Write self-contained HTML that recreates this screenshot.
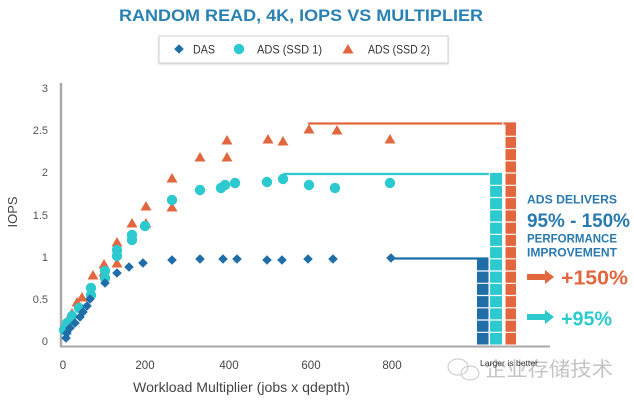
<!DOCTYPE html>
<html><head><meta charset="utf-8"><style>
html,body{margin:0;padding:0;background:#fff;}
svg{display:block;}
text{font-family:"Liberation Sans","Noto Sans CJK SC",sans-serif;}
</style></head><body>
<svg width="634" height="401" viewBox="0 0 634 401" xmlns="http://www.w3.org/2000/svg">
<defs>
<filter id="sh" x="-5%" y="-20%" width="110%" height="150%"><feDropShadow dx="0" dy="1" stdDeviation="1" flood-color="#000" flood-opacity="0.15"/></filter>
<path id="tri" d="M0,-5 L5.5,4.5 L-5.5,4.5 Z" fill="#e2673f"/>
<path id="dia" d="M0,-4.8 L4.8,0 L0,4.8 L-4.8,0 Z" fill="#1f6ea8"/>
<circle id="cir" r="5.2" fill="#2cc9cf"/>
</defs>
<rect width="634" height="401" fill="#fff"/>
<!-- title -->
<text x="119" y="21" font-size="17" font-weight="bold" fill="#2a82b4" textLength="364" lengthAdjust="spacingAndGlyphs">RANDOM READ, 4K, IOPS VS MULTIPLIER</text>
<!-- legend -->
<rect x="159" y="36" width="289" height="27" fill="#fff" stroke="#d0d0d0" stroke-width="1" filter="url(#sh)"/>
<use href="#dia" x="179" y="49"/>
<text x="193" y="53.5" font-size="12" fill="#333" textLength="22" lengthAdjust="spacingAndGlyphs">DAS</text>
<use href="#cir" x="239" y="49"/>
<text x="257" y="53.5" font-size="12" fill="#333" textLength="65" lengthAdjust="spacingAndGlyphs">ADS (SSD 1)</text>
<use href="#tri" x="348" y="49"/>
<text x="368" y="53.5" font-size="12" fill="#333" textLength="62" lengthAdjust="spacingAndGlyphs">ADS (SSD 2)</text>
<!-- axes -->
<line x1="61" y1="83" x2="61" y2="347" stroke="#aaa" stroke-width="2.5"/>
<line x1="60" y1="346.5" x2="550" y2="346.5" stroke="#aaa" stroke-width="2"/>
<!-- y ticks -->
<g font-size="11" fill="#555" text-anchor="end">
<text x="48" y="92">3</text>
<text x="48" y="134">2.5</text>
<text x="48" y="176">2</text>
<text x="48" y="219">1.5</text>
<text x="48" y="261">1</text>
<text x="48" y="303">0.5</text>
<text x="48" y="345">0</text>
</g>
<g font-size="11.5" fill="#444" text-anchor="middle">
<text x="63" y="369">0</text>
<text x="145" y="369">200</text>
<text x="229" y="369">400</text>
<text x="311" y="369">600</text>
<text x="392" y="369">800</text>
</g>
<text x="133" y="392" font-size="14" fill="#444" textLength="217" lengthAdjust="spacingAndGlyphs">Workload Multiplier (jobs x qdepth)</text>
<text transform="translate(17,212) rotate(-90)" font-size="13" fill="#444" text-anchor="middle">IOPS</text>
<!-- reference lines -->
<line x1="308" y1="123.5" x2="516" y2="123.5" stroke="#e2673f" stroke-width="2.2"/>
<line x1="283" y1="174" x2="502" y2="174" stroke="#2cc9cf" stroke-width="2.2"/>
<line x1="391" y1="258.5" x2="488" y2="258.5" stroke="#1f6ea8" stroke-width="2.2"/>
<!-- bars -->
<rect x="505.5" y="122.5" width="10.5" height="222" fill="#e2673f"/>
<rect x="490" y="173" width="12" height="171.5" fill="#2cc9cf"/>
<rect x="477" y="258" width="11.5" height="86.5" fill="#1f6ea8"/>
<g stroke="#fff" stroke-width="1.2">
<line x1="477" y1="332.3" x2="516" y2="332.3"/>
<line x1="477" y1="320" x2="516" y2="320"/>
<line x1="477" y1="307.8" x2="516" y2="307.8"/>
<line x1="477" y1="295.5" x2="516" y2="295.5"/>
<line x1="477" y1="283.3" x2="516" y2="283.3"/>
<line x1="477" y1="271" x2="516" y2="271"/>
<line x1="490" y1="258.8" x2="516" y2="258.8"/>
<line x1="490" y1="246.5" x2="516" y2="246.5"/>
<line x1="490" y1="234.3" x2="516" y2="234.3"/>
<line x1="490" y1="222" x2="516" y2="222"/>
<line x1="490" y1="209.8" x2="516" y2="209.8"/>
<line x1="490" y1="197.5" x2="516" y2="197.5"/>
<line x1="490" y1="185.3" x2="516" y2="185.3"/>
<line x1="505" y1="173" x2="516" y2="173"/>
<line x1="505" y1="160.8" x2="516" y2="160.8"/>
<line x1="505" y1="148.5" x2="516" y2="148.5"/>
<line x1="505" y1="136.3" x2="516" y2="136.3"/>
<line x1="489.5" y1="173" x2="489.5" y2="345"/>
<line x1="502.8" y1="122" x2="502.8" y2="345"/>
</g>
<!-- SSD2 triangles -->
<g>
<use href="#tri" x="64" y="327"/><use href="#tri" x="67" y="321"/><use href="#tri" x="72" y="313"/>
<use href="#tri" x="77" y="302"/><use href="#tri" x="82" y="297"/><use href="#tri" x="93" y="275"/>
<use href="#tri" x="104" y="264"/><use href="#tri" x="104" y="272"/><use href="#tri" x="117" y="263"/>
<use href="#tri" x="117" y="242"/><use href="#tri" x="132" y="223"/><use href="#tri" x="146" y="223"/>
<use href="#tri" x="146" y="206"/><use href="#tri" x="172" y="207"/><use href="#tri" x="172" y="178"/>
<use href="#tri" x="200" y="157"/><use href="#tri" x="227" y="157"/><use href="#tri" x="227" y="140"/>
<use href="#tri" x="268" y="139"/><use href="#tri" x="283" y="141"/><use href="#tri" x="309" y="129"/>
<use href="#tri" x="337" y="130"/><use href="#tri" x="390" y="139"/>
</g>
<!-- SSD1 circles -->
<g>
<use href="#cir" x="64" y="330"/><use href="#cir" x="67" y="323"/><use href="#cir" x="72" y="316"/>
<use href="#cir" x="79" y="308"/><use href="#cir" x="91" y="295"/><use href="#cir" x="91" y="288"/>
<use href="#cir" x="105" y="278"/><use href="#cir" x="105" y="271"/><use href="#cir" x="117" y="256"/>
<use href="#cir" x="117" y="250"/><use href="#cir" x="132" y="240"/><use href="#cir" x="132" y="235"/>
<use href="#cir" x="145" y="226"/><use href="#cir" x="172" y="200"/><use href="#cir" x="200" y="190"/>
<use href="#cir" x="221" y="188"/><use href="#cir" x="225" y="185"/><use href="#cir" x="235" y="183"/>
<use href="#cir" x="267" y="182"/><use href="#cir" x="283" y="179"/><use href="#cir" x="309" y="185"/>
<use href="#cir" x="335" y="188"/><use href="#cir" x="390" y="183"/>
</g>
<!-- DAS diamonds -->
<g>
<use href="#dia" x="66" y="338"/><use href="#dia" x="67" y="333"/><use href="#dia" x="70" y="328"/>
<use href="#dia" x="75" y="323"/><use href="#dia" x="80" y="317"/><use href="#dia" x="83" y="312"/>
<use href="#dia" x="87" y="306"/><use href="#dia" x="90" y="299"/><use href="#dia" x="105" y="283"/>
<use href="#dia" x="117" y="273"/><use href="#dia" x="129" y="267"/><use href="#dia" x="143" y="263"/>
<use href="#dia" x="172" y="260"/><use href="#dia" x="200" y="259"/><use href="#dia" x="223" y="259"/>
<use href="#dia" x="237" y="259"/><use href="#dia" x="267" y="260"/><use href="#dia" x="282" y="260"/>
<use href="#dia" x="308" y="259"/><use href="#dia" x="333" y="259"/><use href="#dia" x="391" y="258"/>
</g>
<!-- right annotation -->
<text x="527" y="203.5" font-size="12" font-weight="bold" fill="#2a7ab0" textLength="90" lengthAdjust="spacingAndGlyphs">ADS DELIVERS</text>
<text x="527" y="227" font-size="19" font-weight="bold" fill="#2a7ab0" textLength="103" lengthAdjust="spacingAndGlyphs">95% - 150%</text>
<text x="527" y="242.5" font-size="11.5" font-weight="bold" fill="#2a7ab0" textLength="90" lengthAdjust="spacingAndGlyphs">PERFORMANCE</text>
<text x="527" y="256.5" font-size="11.5" font-weight="bold" fill="#2a7ab0" textLength="90" lengthAdjust="spacingAndGlyphs">IMPROVEMENT</text>
<path d="M527,274 L545,274 L545,270 L554,277 L545,284 L545,280 L527,280 Z" fill="#e2673f"/>
<text x="561" y="284.5" font-size="20" font-weight="bold" fill="#e2673f" textLength="67" lengthAdjust="spacingAndGlyphs">+150%</text>
<path d="M527,314 L545,314 L545,310 L554,317 L545,324 L545,320 L527,320 Z" fill="#2cc9cf"/>
<text x="561" y="325.5" font-size="20" font-weight="bold" fill="#2cc9cf" textLength="51" lengthAdjust="spacingAndGlyphs">+95%</text>
<!-- watermark -->
<g fill="none" stroke="#cfcfcf" stroke-width="1.2">
<ellipse cx="458" cy="367" rx="10" ry="8"/>
<ellipse cx="470" cy="373" rx="9" ry="7"/>
</g>
<text x="485" y="376" font-size="20" fill="#c4c4c4" font-family="'Noto Sans CJK SC',sans-serif" textLength="128" lengthAdjust="spacingAndGlyphs">企业存储技术</text>
<text x="480" y="366" font-size="8" fill="#333" textLength="58" lengthAdjust="spacingAndGlyphs">Larger is better</text>
</svg>
</body></html>
